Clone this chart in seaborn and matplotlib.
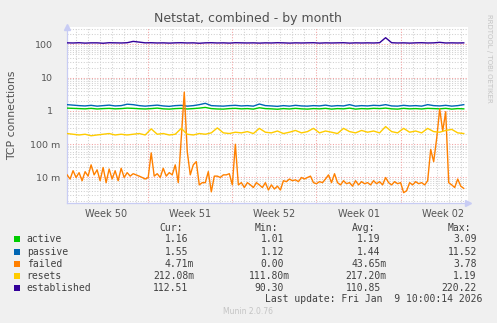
import numpy as np
import pandas as pd
import matplotlib
matplotlib.use("Agg")
import matplotlib.pyplot as plt
from matplotlib.patches import Rectangle
import seaborn as sns

# ---------------- data (days since start of Week 50) ----------------
step_x = 0.5          # sampling of smooth series
step_f = 0.25         # sampling of 'failed'
x_start = 0.25

established = [112, 111, 113, 110, 112, 112, 109, 113, 112, 111,
               113, 124, 118, 112, 113, 111, 112, 110, 112, 113,
               111, 112, 109, 112, 113, 111, 112, 110, 113, 112,
               111, 112, 110, 112, 111, 113, 112, 110, 112, 111,
               112, 113, 110, 112, 111, 112, 113, 110, 112, 111,
               112, 111, 113, 160, 113, 111, 112, 110, 112, 113,
               111, 112, 116, 111, 112, 111, 112]

passive = [1.55, 1.50, 1.45, 1.42, 1.48, 1.40, 1.45, 1.50, 1.42, 1.45,
           1.60, 1.55, 1.45, 1.40, 1.45, 1.50, 1.42, 1.38, 1.45, 1.48,
           1.40, 1.45, 1.55, 1.70, 1.45, 1.42, 1.40, 1.45, 1.48, 1.42,
           1.45, 1.40, 1.62, 1.45, 1.42, 1.38, 1.45, 1.40, 1.48, 1.42,
           1.40, 1.45, 1.42, 1.50, 1.40, 1.45, 1.42, 1.55, 1.40, 1.45,
           1.42, 1.48, 1.45, 1.55, 1.42, 1.40, 1.48, 1.42, 1.45, 1.40,
           1.55, 1.45, 1.42, 1.48, 1.40, 1.45, 1.55]

active = [1.22, 1.20, 1.18, 1.16, 1.20, 1.15, 1.18, 1.20, 1.16, 1.18,
          1.22, 1.20, 1.17, 1.15, 1.18, 1.22, 1.16, 1.14, 1.18, 1.20,
          1.15, 1.18, 1.22, 1.28, 1.18, 1.15, 1.14, 1.18, 1.20, 1.16,
          1.18, 1.14, 1.25, 1.18, 1.16, 1.13, 1.18, 1.15, 1.20, 1.16,
          1.14, 1.18, 1.16, 1.20, 1.14, 1.18, 1.16, 1.22, 1.14, 1.18,
          1.16, 1.20, 1.18, 1.22, 1.16, 1.14, 1.20, 1.16, 1.18, 1.15,
          1.20, 1.18, 1.16, 1.20, 1.14, 1.18, 1.16]

resets = [0.21, 0.20, 0.19, 0.20, 0.18, 0.19, 0.20, 0.21, 0.19, 0.20,
          0.19, 0.20, 0.21, 0.19, 0.29, 0.20, 0.21, 0.19, 0.20, 0.30,
          0.20, 0.19, 0.21, 0.20, 0.22, 0.31, 0.22, 0.21, 0.23, 0.22,
          0.24, 0.21, 0.30, 0.23, 0.22, 0.25, 0.21, 0.23, 0.26, 0.22,
          0.24, 0.30, 0.22, 0.25, 0.23, 0.21, 0.30, 0.24, 0.22, 0.26,
          0.23, 0.25, 0.22, 0.34, 0.24, 0.22, 0.30, 0.23, 0.25, 0.22,
          0.30, 0.24, 0.23, 0.26, 0.28, 0.22, 0.21]

failed = [0.012, 0.009, 0.016, 0.010, 0.014, 0.008, 0.015, 0.011, 0.024, 0.012,
          0.017, 0.008, 0.020, 0.007, 0.018, 0.009, 0.016, 0.008, 0.019, 0.010,
          0.014, 0.011, 0.013, 0.012, 0.011, 0.010, 0.009, 0.010, 0.055, 0.011,
          0.013, 0.010, 0.019, 0.011, 0.014, 0.012, 0.024, 0.007, 0.15, 3.7,
          0.06, 0.012, 0.024, 0.03, 0.006, 0.007, 0.007, 0.015, 0.0037, 0.011,
          0.011, 0.010, 0.012, 0.012, 0.013, 0.006, 0.10, 0.006, 0.007, 0.005,
          0.007, 0.006, 0.005, 0.007, 0.006, 0.005, 0.007, 0.0042, 0.006, 0.0045,
          0.0055, 0.0042, 0.008, 0.0075, 0.009, 0.008, 0.0085, 0.0075, 0.010, 0.009,
          0.010, 0.011, 0.007, 0.0065, 0.0075, 0.007, 0.009, 0.012, 0.007, 0.013,
          0.007, 0.006, 0.008, 0.0065, 0.007, 0.0055, 0.008, 0.006, 0.0075, 0.0065,
          0.007, 0.006, 0.008, 0.0065, 0.0075, 0.006, 0.010, 0.007, 0.006, 0.0075,
          0.0065, 0.007, 0.0035, 0.004, 0.007, 0.006, 0.0075, 0.0065, 0.007, 0.006,
          0.008, 0.07, 0.03, 0.15, 1.15, 0.25, 0.95, 0.007, 0.006, 0.005,
          0.009, 0.0055, 0.0047]

series_names = ["active", "passive", "failed", "resets", "established"]
series_colors = ["#00CC00", "#0066B3", "#FF8000", "#FFCC00", "#330099"]

cur_vals = ["1.16", "1.55", "4.71m", "212.08m", "112.51"]
min_vals = ["1.01", "1.12", "0.00", "111.80m", "90.30"]
avg_vals = ["1.19", "1.44", "43.65m", "217.20m", "110.85"]
max_vals = ["3.09", "11.52", "3.78", "1.19", "220.22"]

week_labels = ["Week 50", "Week 51", "Week 52", "Week 01", "Week 02"]
ytick_vals = [0.01, 0.1, 1, 10, 100]
ytick_labels = ["10 m", "100 m", "1", "10", "100"]

# ---------------- figure ----------------
W, H = 497, 323
def fx(px): return px / W
def fy(py): return 1 - py / H

fig = plt.figure(figsize=(W / 100, H / 100), dpi=100, facecolor="#F0F0F0")
L, R, T, B = 66.7, 468.3, 26.7, 203.0
ax = fig.add_axes([fx(L), fy(B), (R - L) / W, (B - T) / H])
ax.set_facecolor("white")

xs = x_start + step_x * np.arange(len(active))
xf = x_start + step_f * np.arange(len(failed))
data = {"active": (xs, active), "passive": (xs, passive), "failed": (xf, failed),
        "resets": (xs, resets), "established": (xs, established)}

ax.set_yscale("log")
ax.set_xlim(0.22, 33.63)
ax.set_ylim(10 ** -2.767, 10 ** 2.535)

# grid
grid_grey = "#d0d0d0"
grid_red = "#f2a0a0"
dot = (0, (1, 1.6))
for d in range(1, 34):
    if d % 7 != 0:
        ax.axvline(d, color=grid_grey, lw=0.75, ls=dot, zorder=0.5)
for d in (7, 14, 21, 28):
    ax.axvline(d, color=grid_red, lw=0.75, ls=dot, zorder=0.6)
for e in range(-3, 3):
    for m in range(2, 10):
        v = m * 10.0 ** e
        ax.axhline(v, color=grid_grey, lw=0.75, ls=dot, zorder=0.5)
for v in ytick_vals:
    ax.axhline(v, color=grid_red, lw=0.75, ls=dot, zorder=0.6)

for name, col in zip(series_names, series_colors):
    x, y = data[name]
    sns.lineplot(x=x, y=y, ax=ax, color=col, lw=1.0, legend=False, zorder=3)

# ticks
ax.set_xticks([3.5 + 7 * k for k in range(5)])
ax.set_xticklabels(week_labels)
ax.set_yticks(ytick_vals)
ax.set_yticklabels(ytick_labels)
ax.yaxis.set_minor_locator(matplotlib.ticker.NullLocator())
ax.xaxis.set_minor_locator(matplotlib.ticker.NullLocator())
ax.tick_params(axis="both", length=0, colors="#555555")
ax.tick_params(axis="x", labelsize=7, pad=4.2)
ax.tick_params(axis="y", labelsize=6.8)
for tk, lab in zip(ax.yaxis.get_major_ticks(), ytick_labels):
    tk.set_pad(4.8 if " m" in lab else 9.6)
ax.set_xlabel("")
ax.set_ylabel("")

for s in ("top", "right"):
    ax.spines[s].set_visible(False)
for s in ("left", "bottom"):
    ax.spines[s].set_color("#c8ccf4")
    ax.spines[s].set_linewidth(0.9)
ax.plot([0], [1.0], transform=ax.transAxes, marker="^", ms=5, color="#c8ccf4",
        clip_on=False, zorder=5)
ax.plot([1.0], [0], transform=ax.transAxes, marker=">", ms=5, color="#c8ccf4",
        clip_on=False, zorder=5)

# texts
fig.text(fx(248), fy(18.5), "Netstat, combined - by month", ha="center", va="center",
         fontsize=9, color="#505050")
fig.text(fx(12), fy(115), "TCP connections", rotation=90, ha="center", va="center",
         fontsize=7.8, color="#505050")
fig.text(fx(488.5), fy(58.5), "RRDTOOL / TOBI OETIKER", rotation=270, ha="center",
         va="center", fontsize=5, color="#c4c4c4")
fig.text(fx(248), fy(312), "Munin 2.0.76", ha="center", va="center", fontsize=5.5,
         color="#c4c4c4")

mono = dict(family="DejaVu Sans Mono", fontsize=7, color="#404040")
cw = 5.85
col_end = [194.3, 290.0, 386.7, 482.6]
headers = ["Cur:", "Min:", "Avg:", "Max:"]
hdr_y = 227.7
for h, ce in zip(headers, col_end):
    fig.text(fx(ce - 2 * cw), fy(hdr_y), h, ha="right", va="center", **mono)

row_y = [239.3, 251.7, 263.7, 275.7, 287.7]
for i, (name, col) in enumerate(zip(series_names, series_colors)):
    yy = row_y[i]
    fig.patches.append(Rectangle((fx(14), fy(yy + 3)), 6 / W, 6 / H,
                                 transform=fig.transFigure, facecolor=col,
                                 edgecolor="none"))
    fig.text(fx(26.7), fy(yy), name, ha="left", va="center", **mono)
    for vals, ce in zip([cur_vals, min_vals, avg_vals, max_vals], col_end):
        v = vals[i]
        xe = ce if v.endswith("m") else ce - cw
        fig.text(fx(xe), fy(yy), v, ha="right", va="center", **mono)

fig.text(fx(482.3), fy(299.3), "Last update: Fri Jan  9 10:00:14 2026", ha="right",
         va="center", **mono)

fig.savefig("out.png", dpi=100, facecolor=fig.get_facecolor())
